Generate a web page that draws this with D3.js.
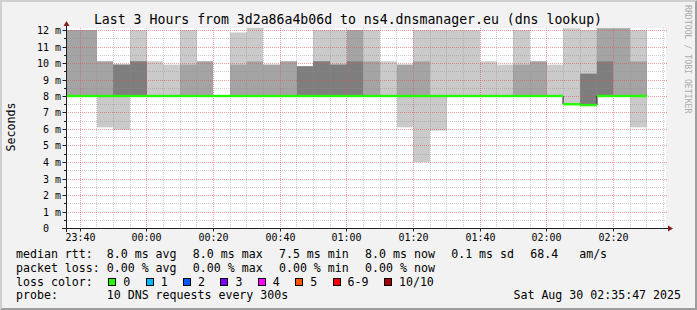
<!DOCTYPE html>
<html>
<head>
<meta charset="utf-8">
<script src="https://cdn.jsdelivr.net/npm/d3@7"></script>
<style>
body{margin:0;background:#f2f2f2;}
svg text{font-family:"DejaVu Sans Mono",monospace;white-space:pre;}
</style>
</head>
<body>
<svg id="chart" width="697" height="310"></svg>
<script>
var title = "Last 3 Hours from 3d2a86a4b06d to ns4.dnsmanager.eu (dns lookup)";
var timeStart = "2025-08-29 23:35:47", timeEnd = "2025-08-30 02:35:47";

// 5 minute bins, start time of each
var binStarts = [
 "2025-08-29 23:35","2025-08-29 23:40","2025-08-29 23:45","2025-08-29 23:50","2025-08-29 23:55",
 "2025-08-30 00:00","2025-08-30 00:05","2025-08-30 00:10","2025-08-30 00:15","2025-08-30 00:20",
 "2025-08-30 00:25","2025-08-30 00:30","2025-08-30 00:35","2025-08-30 00:40","2025-08-30 00:45",
 "2025-08-30 00:50","2025-08-30 00:55","2025-08-30 01:00","2025-08-30 01:05","2025-08-30 01:10",
 "2025-08-30 01:15","2025-08-30 01:20","2025-08-30 01:25","2025-08-30 01:30","2025-08-30 01:35",
 "2025-08-30 01:40","2025-08-30 01:45","2025-08-30 01:50","2025-08-30 01:55","2025-08-30 02:00",
 "2025-08-30 02:05","2025-08-30 02:10","2025-08-30 02:15","2025-08-30 02:20","2025-08-30 02:25"
];

// 10 sorted ping times (ms) per bin
var pings = [
 [8,8,8,8,8,8,8,8,12,12],
 [8,8,8,8,8,8,8,8,12,12],
 [6.1,8,8,8,8,8,8,8,10.1,10.1],
 [5.95,8,8,8,8,8,8,9.9,9.9,9.9],
 [8,8,8,8,8,8,8,10.1,10.1,12],
 [8,8,8,8,8,8,8,8,8,10.1],
 [8,8,8,8,8,8,8,8,8,9.9],
 [8,8,8,8,8,8,8,8,9.9,12],
 [8,8,8,8,8,8,8,8,10.1,10.1],
 [8,8,8,8,8,8,8,8,8,8],
 [8,8,8,8,8,8,8,8,9.9,11.85],
 [8,8,8,8,8,8,8,8,10.1,12.2],
 [8,8,8,8,8,8,8,8,9.9,9.9],
 [8,8,8,8,8,8,8,8,10.1,10.1],
 [8,8,8,8,8,8,8,9.8,9.8,9.8],
 [8,8,8,8,8,8,8,10.1,10.1,12],
 [8,8,8,8,8,8,8,9.9,9.9,12],
 [8,8,8,8,8,8,8,10.1,12,12],
 [8,8,8,8,8,8,8,8,10.1,12],
 [8,8,8,8,8,8,8,8,8,10.1],
 [6.1,8,8,8,8,8,8,8,9.9,9.9],
 [4.0,8,8,8,8,8,8,8,10.1,12],
 [5.9,8,8,8,8,8,8,8,8,12],
 [8,8,8,8,8,8,8,8,8,12],
 [8,8,8,8,8,8,8,8,8,12],
 [8,8,8,8,8,8,8,8,8,10.1],
 [8,8,8,8,8,8,8,8,8,9.9],
 [8,8,8,8,8,8,8,8,9.9,12],
 [8,8,8,8,8,8,8,8,10.1,10.1],
 [8,8,8,8,8,8,8,8,8,9.9],
 [7.5,7.5,7.5,7.5,7.5,7.5,7.5,7.5,7.5,12.1],
 [7.45,7.45,7.45,7.45,7.45,7.45,7.45,9.35,9.35,12],
 [8,8,8,8,8,8,8,10.1,12.1,12.1],
 [8,8,8,8,8,8,8,8,12.1,12.1],
 [6.1,8,8,8,8,8,8,8,10.1,12]
];
// lost pings per bin
var loss = [0,0,0,0,0,0,0,0,0,0,0,0,0,0,0,0,0,0,0,0,0,0,0,0,0,0,0,0,0,0,0,0,0,0,0];

var yTicks = [0,1,2,3,4,5,6,7,8,9,10,11,12];
var lossLabels = ["0","1","2","3","4","5","6-9","10/10"];
var lossLimits = [0,1,2,3,4,5,9,10];
var lossColors = ["#26ff00","#00b8ff","#0059ff","#7e00ff","#ff00ff","#ff5500","#ff0000","#a00000"];

var rttStats = [8.0, 8.0, 7.5, 8.0];   // avg max min now
var rttSd = 0.1, amPerS = 68.4;
var lossStats = [0.00, 0.00, 0.00, 0.00];
var probeText = "10 DNS requests every 300s";
var dateText = "Sat Aug 30 02:35:47 2025";

var parse = d3.timeParse("%Y-%m-%d %H:%M:%S"), parseBin = d3.timeParse("%Y-%m-%d %H:%M");
var t0 = parse(timeStart), t1 = parse(timeEnd);

var svg = d3.select("#chart");
var W = 697, H = 310;
var xo = 66, xs = 600, yo = 228, yTop = 28;

var x = d3.scaleTime().domain([t0,t1]).range([xo, xo+xs]);
var y = d3.scaleLinear().domain([0,12]).range([yo, 30]);

// background + 3d border
svg.append("rect").attr("width",W).attr("height",H).attr("fill","#f2f2f2");
svg.append("path").attr("d","M0,0L"+W+",0L"+(W-2)+",2L2,2L2,"+(H-2)+"L0,"+H+"Z").attr("fill","#cfcfcf");
svg.append("path").attr("d","M"+W+",0L"+W+","+H+"L0,"+H+"L2,"+(H-2)+"L"+(W-2)+","+(H-2)+"L"+(W-2)+",2Z").attr("fill","#9e9e9e");

// canvas
svg.append("rect").attr("x",xo).attr("y",yTop).attr("width",xs).attr("height",yo-yTop).attr("fill","#fff");
svg.append("clipPath").attr("id","clip").append("rect").attr("x",xo).attr("y",yTop).attr("width",xs).attr("height",yo-yTop);

var bins = binStarts.map(function(s,i){
	var b = parseBin(s);
	var e = d3.timeMinute.offset(b,5);
	var xa = Math.round(x(b < t0 ? t0 : b)), xb = Math.round(x(e > t1 ? t1 : e));
	return {x0:xa, x1:xb, p:pings[i], med:d3.median(pings[i]), loss:loss[i]};
});

// smoke: pairs outer -> inner, darker inside
var g = svg.append("g").attr("clip-path","url(#clip)");
var half = 5;
for(var k=1;k<=half;k++){
	var c = Math.floor(190/half*(half-k))+50;
	var col = d3.rgb(c,c,c).formatHex();
	g.selectAll(null).data(bins.filter(function(d){return d.p[10-k]>d.p[k-1];}))
		.enter().append("rect")
		.attr("x",function(d){return d.x0;})
		.attr("width",function(d){return d.x1-d.x0;})
		.attr("y",function(d){return y(d.p[10-k]);})
		.attr("height",function(d){return y(d.p[k-1])-y(d.p[10-k]);})
		.attr("fill",col);
}

// grid
var minorCol = "rgba(143,143,143,0.45)", majorCol = "rgba(222,79,79,0.55)";
var grid = svg.append("g").attr("fill","none").attr("stroke-width",1).attr("stroke-dasharray","1,1");
var minorY = d3.range(1,25).map(function(i){return i/2;}).filter(function(v){return v%1!==0;});
grid.selectAll(null).data(minorY).enter().append("line")
	.attr("x1",xo).attr("x2",xo+xs).attr("y1",function(d){return Math.round(y(d))+0.5;}).attr("y2",function(d){return Math.round(y(d))+0.5;})
	.attr("stroke",minorCol);
var minorX = d3.timeMinute.every(5).range(t0,t1).filter(function(t){return t.getMinutes()%20!==0;});
grid.selectAll(null).data(minorX).enter().append("line")
	.attr("y1",yTop).attr("y2",yo).attr("x1",function(d){return Math.floor(x(d))+0.5;}).attr("x2",function(d){return Math.floor(x(d))+0.5;})
	.attr("stroke",minorCol);
var majorX = d3.timeMinute.every(20).range(t0,t1);
grid.selectAll(null).data(majorX).enter().append("line")
	.attr("y1",yTop).attr("y2",yo).attr("x1",function(d){return Math.floor(x(d))+0.5;}).attr("x2",function(d){return Math.floor(x(d))+0.5;})
	.attr("stroke",majorCol);
grid.selectAll(null).data(yTicks.slice(1)).enter().append("line")
	.attr("x1",xo).attr("x2",xo+xs+2).attr("y1",function(d){return Math.round(y(d))+0.5;}).attr("y2",function(d){return Math.round(y(d))+0.5;})
	.attr("stroke",majorCol);

// median line (dark) and loss coloured band
var pts = [];
bins.forEach(function(d){ pts.push([d.x0,y(d.med)]); pts.push([d.x1,y(d.med)]); });
svg.append("path").attr("d",d3.line()(pts)).attr("fill","none").attr("stroke","#202020").attr("stroke-width",1);
function lossColor(l){ for(var i=0;i<lossLimits.length;i++){ if(l<=lossLimits[i]) return lossColors[i]; } return lossColors[lossColors.length-1]; }
svg.selectAll(null).data(bins).enter().append("rect")
	.attr("x",function(d){return d.x0;}).attr("width",function(d){return d.x1-d.x0;})
	.attr("y",function(d){return y(d.med)-1.2;}).attr("height",2.4)
	.attr("fill",function(d){return lossColor(d.loss);});

// axes
var axisCol = "#1f1f1f";
var xAxis = svg.append("g").attr("transform","translate(0,"+(yo+0.5)+")")
	.call(d3.axisBottom(x).ticks(d3.timeMinute.every(20)).tickFormat(d3.timeFormat("%H:%M")).tickSize(3).tickPadding(2));
xAxis.select(".domain").remove();
xAxis.selectAll(".tick").attr("transform",function(d){return "translate("+(Math.floor(x(d))+0.5)+",0)";});
xAxis.selectAll("line").attr("stroke",axisCol);
xAxis.selectAll("text").attr("font-size",10).attr("font-family","DejaVu Sans Mono").attr("fill","#000");

var yAxis = svg.append("g").attr("transform","translate("+(xo+0.5)+",0)")
	.call(d3.axisLeft(y).tickValues(yTicks).tickFormat(function(d){return d===0?"0":d+" m";}).tickSize(4).tickPadding(1.5));
yAxis.select(".domain").remove();
yAxis.selectAll(".tick").attr("transform",function(d){return "translate(0,"+(Math.round(y(d))+0.5)+")";});
yAxis.selectAll("line").attr("stroke",axisCol);
yAxis.selectAll("text").attr("font-size",10).attr("font-family","DejaVu Sans Mono").attr("fill","#000")
	.attr("dx",function(d){return d===0?-12:0;});
svg.selectAll(null).data(minorY).enter().append("line")
	.attr("x1",xo-2).attr("x2",xo).attr("y1",function(d){return Math.round(y(d))+0.5;}).attr("y2",function(d){return Math.round(y(d))+0.5;})
	.attr("stroke",axisCol);

svg.append("line").attr("x1",xo-4).attr("x2",xo+xs+4).attr("y1",yo+0.5).attr("y2",yo+0.5).attr("stroke",axisCol);
svg.append("line").attr("x1",xo+0.5).attr("x2",xo+0.5).attr("y1",yo+4).attr("y2",yTop-4).attr("stroke",axisCol);
svg.append("path").attr("d","M"+(xo+xs+2)+","+(yo-2.5)+"L"+(xo+xs+2)+","+(yo+3.5)+"L"+(xo+xs+7)+","+(yo+0.5)+"Z").attr("fill","#801f1f");
svg.append("path").attr("d","M"+(xo-2.5)+","+(yTop-2)+"L"+(xo+3.5)+","+(yTop-2)+"L"+(xo+0.5)+","+(yTop-7)+"Z").attr("fill","#801f1f");

// titles
svg.append("text").attr("x",348).attr("y",23.5).attr("text-anchor","middle").attr("font-size",13.2).text(title);
svg.append("text").attr("transform","translate(15,127) rotate(-90)").attr("text-anchor","middle").attr("font-size",11.6).text("Seconds");
svg.append("text").attr("transform","translate(685,5) rotate(90)").attr("font-size",8.2).attr("fill","#ababab").text("RRDTOOL / TOBI OETIKER");

// legend
var lf = 11.6, gap = 16.3;
function row(items, yb){
	var cx = 16;
	items.forEach(function(s){
		var t = svg.append("text").attr("x",cx).attr("y",yb).attr("font-size",lf).text(s);
		cx += t.node().getComputedTextLength() + gap;
	});
}
var f1 = d3.format(".1f"), f2 = d3.format(".2f");
row(["median rtt:  "+f1(rttStats[0])+" ms avg", f1(rttStats[1])+" ms max", f1(rttStats[2])+" ms min",
	f1(rttStats[3])+" ms now", f1(rttSd)+" ms sd", f1(amPerS)+"   am/s"], 258);
row(["packet loss: "+f2(lossStats[0])+" % avg", f2(lossStats[1])+" % max", f2(lossStats[2])+" % min",
	f2(lossStats[3])+" % now"], 271.5);
svg.append("text").attr("x",16).attr("y",285.5).attr("font-size",lf).text("loss color:");
var bx = 108.3;
lossLabels.forEach(function(l,i){
	svg.append("rect").attr("x",Math.round(bx)+0.5).attr("y",278.5).attr("width",7).attr("height",7)
		.attr("fill",lossColors[i]).attr("stroke","#000").attr("stroke-width",1);
	var t = svg.append("text").attr("x",bx+15).attr("y",285.5).attr("font-size",lf).text(l);
	bx = bx + 15 + t.node().getComputedTextLength() + 15.4;
});
svg.append("text").attr("x",16).attr("y",299).attr("font-size",lf).text("probe:       "+probeText);
svg.append("text").attr("x",681).attr("y",299).attr("text-anchor","end").attr("font-size",lf).text(dateText);
</script>
</body>
</html>
